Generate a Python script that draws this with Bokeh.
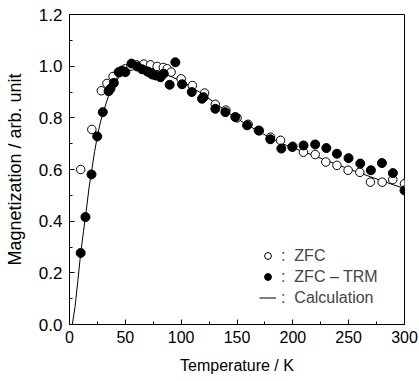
from bokeh.plotting import figure
from bokeh.models import Legend, LegendItem, FixedTicker, PrintfTickFormatter, Range1d
from bokeh.embed import file_html
from bokeh.resources import INLINE

# ZFC (open circles)
zfc_t = [10, 20, 28.5, 33.5, 39, 45, 50, 55, 60, 66.5, 72.5, 78.5, 84, 87.5, 91, 100,
         110, 121, 130.5, 140, 150, 160, 170, 180, 189, 200, 209.5, 220, 229.5, 239.5,
         249.5, 260, 269.5, 280, 289.5, 300]
zfc_m = [0.60, 0.755, 0.905, 0.933, 0.96, 0.975, 0.99, 1.0, 1.005, 1.008, 1.005, 0.999,
         0.995, 0.99, 0.977, 0.951, 0.925, 0.896, 0.852, 0.83, 0.80, 0.775, 0.75, 0.725,
         0.713, 0.69, 0.667, 0.658, 0.629, 0.616, 0.597, 0.589, 0.551, 0.551, 0.561, 0.545]

# ZFC - TRM (filled circles)
trm_t = [10, 14.3, 19.7, 24.8, 29.8, 35, 36.7, 39.7, 44, 47, 50, 55.5, 60.6, 65, 69.5,
         71, 74, 77, 81.4, 84.4, 89.7, 94.8, 100.8, 109.5, 118.7, 120, 130.6, 139.6,
         148.5, 159, 169.4, 179.8, 189.7, 199.5, 209.6, 220, 230, 239.5, 249.9, 260.4,
         269.9, 279.8, 289.6, 300]
trm_m = [0.277, 0.416, 0.581, 0.728, 0.822, 0.903, 0.913, 0.935, 0.977, 0.983, 0.977,
         1.01, 0.999, 0.988, 0.98, 0.977, 0.968, 0.964, 0.957, 0.971, 0.928, 1.015, 0.93,
         0.9, 0.874, 0.88, 0.835, 0.822, 0.803, 0.771, 0.751, 0.717, 0.681, 0.687, 0.693,
         0.697, 0.683, 0.661, 0.644, 0.623, 0.597, 0.625, 0.586, 0.519]

# Calculation (line)
calc_t = [2.5, 5, 7.5, 10, 12.5, 15, 17.5, 20, 22.5, 25, 27.5, 30, 35, 40, 45, 50, 55, 60,
          65, 70, 80, 90, 100, 110, 120, 130, 140, 150, 160, 170, 180, 190, 200, 210,
          220, 230, 240, 250, 260, 270, 280, 290, 300]
calc_m = [0.0, 0.07, 0.17, 0.275, 0.36, 0.44, 0.53, 0.60, 0.67, 0.73, 0.78, 0.82, 0.885,
          0.93, 0.962, 0.983, 0.995, 1.0, 1.0, 0.995, 0.98, 0.962, 0.942, 0.917, 0.89,
          0.858, 0.827, 0.797, 0.771, 0.746, 0.722, 0.701, 0.684, 0.668, 0.652, 0.635,
          0.619, 0.602, 0.587, 0.571, 0.556, 0.541, 0.526]

x_ticks = [0, 50, 100, 150, 200, 250, 300]
x_minor = [25, 75, 125, 175, 225, 275]
y_ticks = [0.0, 0.2, 0.4, 0.6, 0.8, 1.0, 1.2]
y_minor = [0.1, 0.3, 0.5, 0.7, 0.9, 1.1]

FONT = "Liberation Sans"

p = figure(width=419, height=381, output_backend="svg", toolbar_location=None,
           x_range=Range1d(0, 300), y_range=Range1d(0, 1.2),
           min_border_left=69, min_border_top=14, min_border_right=15, min_border_bottom=57)
p.grid.visible = False
p.outline_line_color = "black"
p.outline_line_width = 1
p.background_fill_color = "white"
p.border_fill_color = "white"

line_r = p.line(calc_t, calc_m, line_color="black", line_width=1)
zfc_r = p.scatter(zfc_t, zfc_m, marker="circle", size=8.5, fill_color="white",
                  line_color="black", line_width=1)
trm_r = p.scatter(trm_t, trm_m, marker="circle", size=9, fill_color="black",
                  line_color="black", line_width=1)

for ax in (p.xaxis[0], p.yaxis[0]):
    ax.axis_line_color = "black"
    ax.major_tick_in = 5
    ax.major_tick_out = 0
    ax.minor_tick_in = 3
    ax.minor_tick_out = 0
    ax.major_tick_line_color = "black"
    ax.minor_tick_line_color = "black"
    ax.major_label_text_font = FONT
    ax.axis_label_text_font = FONT
    ax.axis_label_text_font_style = "normal"
    ax.major_label_text_color = "black"
    ax.axis_label_text_color = "black"

p.xaxis.ticker = FixedTicker(ticks=x_ticks, minor_ticks=x_minor)
p.yaxis.ticker = FixedTicker(ticks=y_ticks, minor_ticks=y_minor)
p.yaxis.formatter = PrintfTickFormatter(format="%.1f")
p.xaxis.axis_label = "Temperature / K"
p.yaxis.axis_label = "Magnetization / arb. unit"
p.xaxis.major_label_text_font_size = "16px"
p.yaxis.major_label_text_font_size = "17px"
p.xaxis.axis_label_text_font_size = "16px"
p.yaxis.axis_label_text_font_size = "18px"
p.xaxis.major_label_standoff = 6
p.yaxis.major_label_standoff = 7
p.xaxis.axis_label_standoff = 11
p.yaxis.axis_label_standoff = 11

legend = Legend(items=[
    LegendItem(label=":  ZFC", renderers=[zfc_r]),
    LegendItem(label=":  ZFC \u2013 TRM", renderers=[trm_r]),
    LegendItem(label=":  Calculation", renderers=[line_r]),
], location=(190, 17), padding=0, margin=0, spacing=2, glyph_width=17, glyph_height=19,
    label_height=19, label_standoff=5, label_text_font=FONT, label_text_font_size="16px",
    border_line_color=None, background_fill_alpha=0)
p.add_layout(legend, "center")

open("out.html", "w").write(file_html(p, INLINE))
